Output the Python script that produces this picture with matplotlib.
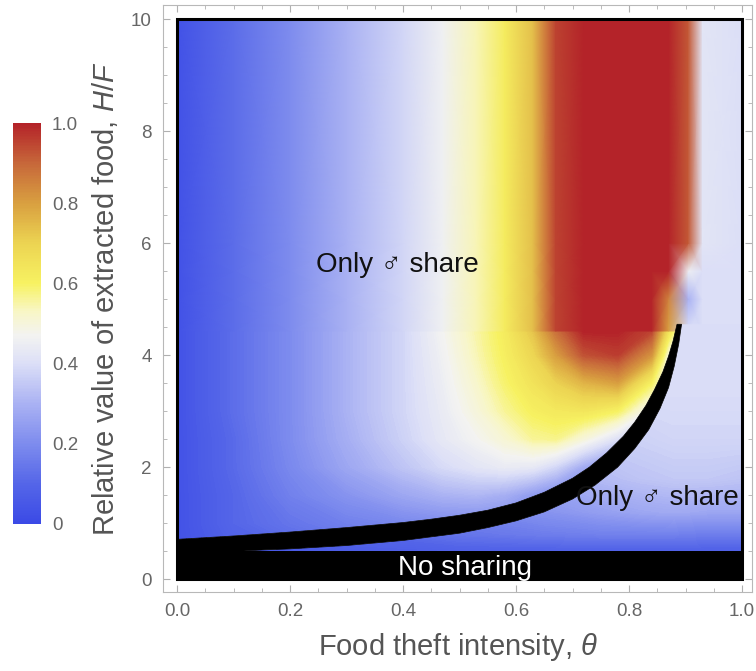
import numpy as np
import matplotlib
matplotlib.use('Agg')
import matplotlib.pyplot as plt
from matplotlib.colors import LinearSegmentedColormap, Normalize
from matplotlib.cm import ScalarMappable
from matplotlib.patches import Polygon, Rectangle
from matplotlib.ticker import MultipleLocator

plt.rcParams['font.family'] = ['Liberation Sans', 'DejaVu Sans']
plt.rcParams['mathtext.fontset'] = 'custom'
plt.rcParams['mathtext.it'] = 'Liberation Sans:italic'
plt.rcParams['mathtext.rm'] = 'Liberation Sans'

# colour scale (blue - white - yellow - red)
cmap_pos = [0.0, 0.1, 0.2, 0.3, 0.4, 0.47, 0.53, 0.6, 0.7, 0.8, 0.9, 1.0]
cmap_col = ['#3b4ae6', '#5566e8', '#7e8cee', '#aab2f3', '#dcdff7', '#f3f3f1',
            '#f8f6c6', '#f7f262', '#ecd452', '#d9a040', '#c7683a', '#b42329']

# region above the black curve, lower part (below the seam at H/F ~ 4.43)
theta_a = [0.0, 0.1, 0.2, 0.3, 0.4, 0.47, 0.53, 0.58, 0.63, 0.67, 0.72, 0.78, 0.84, 0.87, 0.905, 0.93, 1.0]
hf_a_low = [0.5, 1.0, 1.5, 2.0, 2.5, 3.0, 3.5, 4.0, 4.43]
val_a_low = [
    [0.03, 0.08, 0.10, 0.12, 0.13, 0.14, 0.15, 0.15, 0.15, 0.15, 0.15, 0.15, 0.15, 0.15, 0.15, 0.15, 0.15],
    [0.03, 0.10, 0.14, 0.17, 0.19, 0.20, 0.20, 0.20, 0.20, 0.20, 0.20, 0.20, 0.20, 0.20, 0.20, 0.20, 0.20],
    [0.03, 0.10, 0.17, 0.22, 0.27, 0.30, 0.31, 0.29, 0.24, 0.20, 0.20, 0.20, 0.20, 0.20, 0.20, 0.20, 0.20],
    [0.03, 0.11, 0.19, 0.27, 0.34, 0.39, 0.42, 0.44, 0.43, 0.38, 0.28, 0.22, 0.22, 0.22, 0.22, 0.22, 0.22],
    [0.03, 0.11, 0.20, 0.29, 0.37, 0.43, 0.47, 0.51, 0.56, 0.57, 0.50, 0.40, 0.30, 0.30, 0.30, 0.30, 0.30],
    [0.03, 0.12, 0.20, 0.30, 0.38, 0.44, 0.50, 0.56, 0.61, 0.63, 0.64, 0.60, 0.45, 0.40, 0.40, 0.40, 0.40],
    [0.03, 0.12, 0.20, 0.30, 0.38, 0.45, 0.52, 0.59, 0.65, 0.70, 0.76, 0.80, 0.60, 0.45, 0.40, 0.40, 0.40],
    [0.03, 0.12, 0.20, 0.30, 0.38, 0.46, 0.54, 0.61, 0.69, 0.80, 0.93, 0.96, 0.82, 0.50, 0.40, 0.40, 0.40],
    [0.03, 0.12, 0.20, 0.30, 0.38, 0.47, 0.55, 0.62, 0.73, 0.88, 1.00, 1.00, 0.95, 0.65, 0.40, 0.40, 0.40],
]

# region above the black curve, upper part
hf_a_top = [4.43, 5.0, 5.5, 6.0, 10.0]
val_a_top = [
    [0.03, 0.12, 0.20, 0.30, 0.38, 0.46, 0.54, 0.62, 0.74, 0.95, 1.00, 1.00, 1.00, 0.80, 0.40, 0.40, 0.40],
    [0.03, 0.12, 0.20, 0.30, 0.38, 0.46, 0.54, 0.62, 0.74, 0.95, 1.00, 1.00, 1.00, 0.85, 0.30, 0.40, 0.40],
    [0.03, 0.12, 0.20, 0.30, 0.38, 0.46, 0.54, 0.62, 0.74, 0.95, 1.00, 1.00, 1.00, 1.00, 0.45, 0.40, 0.40],
    [0.03, 0.12, 0.20, 0.30, 0.38, 0.46, 0.54, 0.62, 0.74, 0.95, 1.00, 1.00, 1.00, 1.00, 0.92, 0.42, 0.40],
    [0.03, 0.12, 0.20, 0.30, 0.38, 0.46, 0.54, 0.62, 0.74, 0.95, 1.00, 1.00, 1.00, 1.00, 0.92, 0.42, 0.40],
]

# region below the black curve
theta_b = [0.0, 0.12, 0.3, 0.5, 0.65, 0.75, 0.82, 0.88, 0.94, 1.0]
hf_b = [0.5, 0.8, 1.2, 1.8, 2.5, 3.5, 4.6]
val_b = [
    [0.03, 0.05, 0.07, 0.08, 0.08, 0.08, 0.08, 0.08, 0.08, 0.08],
    [0.05, 0.08, 0.10, 0.14, 0.16, 0.17, 0.17, 0.17, 0.16, 0.16],
    [0.08, 0.10, 0.14, 0.18, 0.22, 0.25, 0.27, 0.28, 0.27, 0.27],
    [0.10, 0.12, 0.16, 0.22, 0.28, 0.32, 0.34, 0.35, 0.35, 0.34],
    [0.12, 0.14, 0.18, 0.26, 0.32, 0.36, 0.37, 0.38, 0.38, 0.38],
    [0.15, 0.18, 0.22, 0.30, 0.36, 0.40, 0.40, 0.40, 0.40, 0.40],
    [0.40, 0.40, 0.40, 0.40, 0.40, 0.40, 0.40, 0.40, 0.40, 0.40],
]

# black boundary curve (upper and lower edge) and the no-sharing band
curve_theta_up = [0.0, 0.1, 0.2, 0.3, 0.4, 0.45, 0.5, 0.55, 0.6, 0.65, 0.7, 0.73, 0.76,
                  0.79, 0.81, 0.83, 0.845, 0.86, 0.87, 0.878, 0.885]
curve_hf_up = [0.71, 0.77, 0.84, 0.92, 1.01, 1.07, 1.14, 1.23, 1.36, 1.55, 1.8, 2.0, 2.25,
               2.55, 2.8, 3.1, 3.38, 3.7, 3.98, 4.25, 4.55]
curve_theta_low = [0.0, 0.115, 0.15, 0.2, 0.3, 0.4, 0.5, 0.55, 0.6, 0.65, 0.7, 0.74, 0.78,
                   0.81, 0.835, 0.855, 0.87, 0.88, 0.888, 0.893]
curve_hf_low = [0.5, 0.5, 0.52, 0.54, 0.6, 0.69, 0.82, 0.92, 1.04, 1.2, 1.43, 1.68, 2.0,
                2.33, 2.67, 3.05, 3.42, 3.8, 4.2, 4.55]
no_share_top = 0.5

fig = plt.figure(figsize=(7.56, 6.71), dpi=100)
ax = fig.add_axes([163 / 756, 1 - 592 / 671, 589 / 756, 587 / 671])

cmap = LinearSegmentedColormap.from_list('temp', list(zip(cmap_pos, cmap_col)))
norm = Normalize(0, 1)
levels = np.linspace(0, 1.0001, 201)

cs_a = ax.contourf(theta_a, hf_a_low, val_a_low, levels=levels, cmap=cmap, norm=norm)
pm_a = ax.pcolormesh(theta_a, hf_a_top, val_a_top, cmap=cmap, norm=norm, shading='gouraud')
cs_b = ax.contourf(theta_b, hf_b, val_b, levels=levels, cmap=cmap, norm=norm)

poly_a = Polygon(list(zip([0.0] + curve_theta_up + [1.0, 1.0, 0.0],
                          [10.0] + curve_hf_up + [4.55, 10.0, 10.0])),
                 transform=ax.transData)
poly_b = Polygon(list(zip(curve_theta_low + [1.0, 1.0],
                          curve_hf_low + [4.55, no_share_top])),
                 transform=ax.transData)
cs_a.set_clip_path(poly_a)
cs_b.set_clip_path(poly_b)

ax.fill(curve_theta_up + curve_theta_low[::-1], curve_hf_up + curve_hf_low[::-1],
        color='black', lw=0.5, zorder=3)
ax.fill_between([0, 1], 0, no_share_top, color='black', lw=0, zorder=3)
ax.add_patch(Rectangle((0, 0), 1, 10, fill=False, ec='black', lw=2.2, zorder=4))

ax.text(0.39, 5.6, 'Only ♂ share', fontsize=20, ha='center', va='center', color='#111111', zorder=5)
ax.text(0.85, 1.45, 'Only ♂ share', fontsize=20, ha='center', va='center', color='#111111', zorder=5)
ax.text(0.51, 0.2, 'No sharing', fontsize=20, ha='center', va='center', color='white', zorder=5)

ax.set_xlim(-0.0248, 1.0177)
ax.set_ylim(-0.23, 10.25)
ax.set_xticks([0, 0.2, 0.4, 0.6, 0.8, 1.0])
ax.set_xticklabels(['0.0', '0.2', '0.4', '0.6', '0.8', '1.0'])
ax.set_yticks([0, 2, 4, 6, 8, 10])
ax.xaxis.set_minor_locator(MultipleLocator(0.05))
ax.yaxis.set_minor_locator(MultipleLocator(0.5))
ax.tick_params(which='both', direction='in', top=True, right=True, color='#b0b0b0',
               labelcolor='#666666', labelsize=13.5)
ax.tick_params(which='major', length=5, width=0.8, pad=8)
ax.tick_params(which='minor', length=3, width=0.6)
for s in ax.spines.values():
    s.set_color('#b8b8b8')
    s.set_linewidth(0.8)

ax.set_xlabel('Food theft intensity, $\\theta$', fontsize=21, color='#555555', labelpad=8)
ax.set_ylabel('Relative value of extracted food, $H/F$', fontsize=21, color='#555555', labelpad=8)

cax = fig.add_axes([13 / 756, 1 - 524 / 671, 28 / 756, 401 / 671])
cb = fig.colorbar(ScalarMappable(norm=norm, cmap=cmap), cax=cax)
cb.outline.set_visible(False)
cb.set_ticks([0, 0.2, 0.4, 0.6, 0.8, 1.0])
cb.set_ticklabels(['0', '0.2', '0.4', '0.6', '0.8', '1.0'])
cax.tick_params(length=0, labelcolor='#666666', labelsize=13.5, pad=8)

fig.savefig('out.png', dpi=100)
